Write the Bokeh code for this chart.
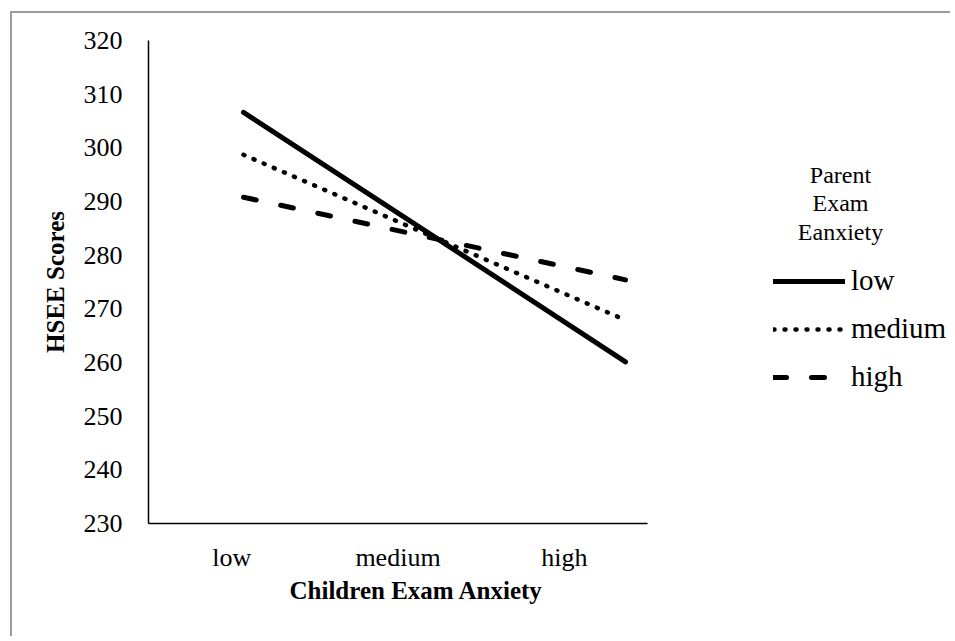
from bokeh.plotting import figure
from bokeh.models import (Range1d, LinearAxis, Legend, LegendItem, FixedTicker, Label, Title)
from bokeh.embed import file_html
from bokeh.resources import INLINE

# ---- data ----
categories = ["low", "medium", "high"]          # Children exam anxiety
parent_low = [306.6, 283.4, 260.1]
parent_medium = [298.7, 283.3, 267.9]
parent_high = [290.8, 283.1, 275.4]
series_labels = ["low", "medium", "high"]       # Parent exam anxiety
y_ticks = [230, 240, 250, 260, 270, 280, 290, 300, 310, 320]
legend_title = "Parent\nExam\nEanxiety"
x_title = "Children Exam Anxiety"
y_title = "HSEE Scores"

FONT = "Liberation Serif"
x_pos = list(range(len(categories)))

# layout (pixels): the frame spans the plot and the legend area on the right;
# the category axis only covers its first AXIS_PX pixels.
FRAME_W = 804
AXIS_PX = 499
LINE_START_PX = 95     # where the first category point sits inside the frame
LINE_UNIT_PX = 191     # pixels between neighbouring category points

n = len(categories)
line_range = Range1d(-LINE_START_PX / LINE_UNIT_PX,
                     (FRAME_W - LINE_START_PX) / LINE_UNIT_PX)
cat_range = Range1d(0, n * FRAME_W / AXIS_PX)

p = figure(width=940, height=625, output_backend="svg", toolbar_location=None,
           x_range=line_range, y_range=Range1d(y_ticks[0], y_ticks[-1]),
           x_axis_location=None,
           min_border_left=136, min_border_top=27, min_border_bottom=115,
           min_border_right=0)
p.styles = {"margin-left": "12px", "margin-top": "13px",
            "box-shadow": "-2px -2px 0px 0px #9b9b9b"}

# category axis: one slot per category, labels centred in each slot
p.extra_x_ranges = {"cat": cat_range}
cat_centres = [i + 0.5 for i in range(n)]
xaxis = LinearAxis(x_range_name="cat", ticker=FixedTicker(ticks=cat_centres),
                   bounds=(0, n),
                   major_label_overrides={c: lab for c, lab in zip(cat_centres, categories)})
p.add_layout(xaxis, "below")

p.xgrid.visible = False
p.ygrid.visible = False
p.outline_line_color = None

for ax in (xaxis, p.yaxis[0]):
    ax.axis_line_color = "black"
    ax.axis_line_width = 1.5
    ax.major_tick_line_color = None
    ax.minor_tick_line_color = None
    ax.major_tick_out = 0
    ax.major_tick_in = 0
    ax.minor_tick_out = 0
    ax.minor_tick_in = 0
    ax.major_label_text_font = FONT
    ax.major_label_text_font_size = "26px"
    ax.major_label_text_color = "black"
    ax.axis_label_text_font = FONT
    ax.axis_label_text_font_size = "25px"
    ax.axis_label_text_font_style = "bold"
    ax.axis_label_text_color = "black"

p.yaxis.ticker = FixedTicker(ticks=y_ticks)
p.yaxis.major_label_standoff = 26
p.yaxis.axis_label = y_title
p.yaxis.axis_label_standoff = 12
xaxis.major_label_standoff = 19

# x-axis title, centred under the category axis (not under the whole frame)
x_title_box = Title(text=x_title, align="left", offset=141, standoff=0,
                    text_font=FONT, text_font_size="25px", text_font_style="bold",
                    text_color="black")
p.add_layout(x_title_box, "below")

r_low = p.line(x_pos, parent_low, line_color="black", line_width=5, line_cap="round")
r_med = p.line(x_pos, parent_medium, line_color="black", line_width=4.5,
               line_cap="round", line_dash="1 10")
r_high = p.line(x_pos, parent_high, line_color="black", line_width=5,
                line_cap="round", line_dash="13 25")

legend = Legend(items=[LegendItem(label=series_labels[0], renderers=[r_low]),
                       LegendItem(label=series_labels[1], renderers=[r_med]),
                       LegendItem(label=series_labels[2], renderers=[r_high])],
                location=(625, 130))
legend.label_text_font = FONT
legend.label_text_font_size = "29px"
legend.label_text_color = "black"
legend.glyph_width = 72
legend.glyph_height = 30
legend.label_standoff = 6
legend.spacing = 15
legend.margin = 0
legend.padding = 0
legend.border_line_color = None
legend.background_fill_alpha = 0
p.add_layout(legend)

title_lbl = Label(text=legend_title, x=692, y=362, x_units="screen", y_units="screen",
                  text_align="center", text_baseline="top", text_font=FONT,
                  text_font_size="24px", text_color="black", text_line_height=1.1)
p.add_layout(title_lbl)

open("out.html", "w").write(file_html(p, INLINE))
